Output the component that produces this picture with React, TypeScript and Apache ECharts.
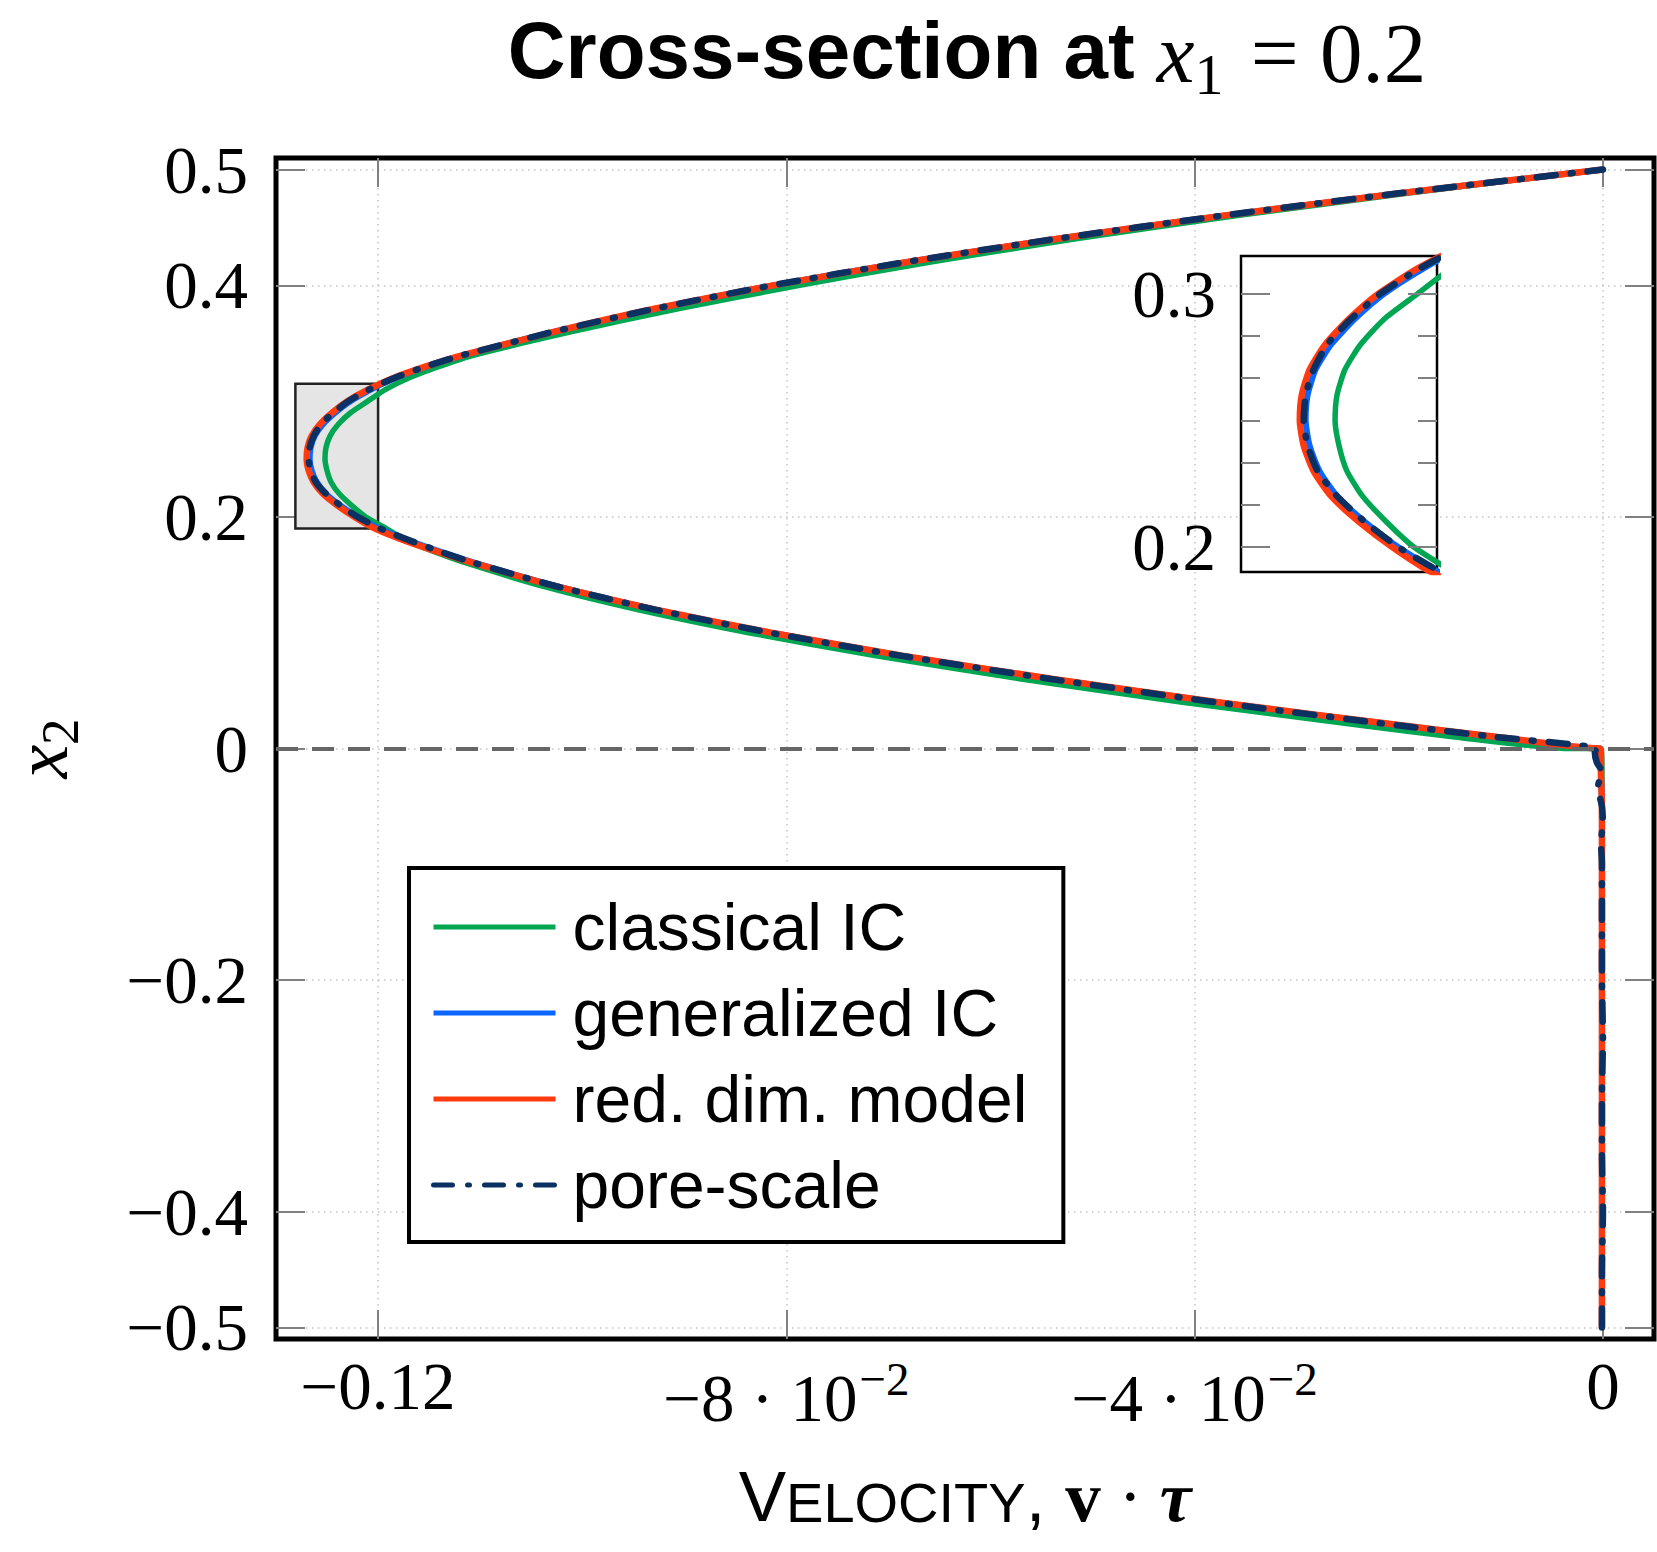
import React, { useEffect, useRef } from 'react';
import * as echarts from 'echarts';

// ---------- data ----------
const seriesNames = ['classical IC', 'generalized IC', 'red. dim. model', 'pore-scale'];
const seriesColors = ['#00A651', '#0A66FF', '#FF3A0F', '#0B3163'];
const seriesWidths = [5.5, 6, 6.5, 6.5];

// free-flow region heights x2 (0 .. 0.5)
const freeHeights = [0, 0.01, 0.02, 0.04, 0.06, 0.08, 0.10, 0.12, 0.14, 0.16, 0.17, 0.18, 0.19, 0.20, 0.21, 0.22, 0.23, 0.24, 0.25, 0.26, 0.27, 0.28, 0.29, 0.30, 0.31, 0.32, 0.33, 0.34, 0.36, 0.38, 0.40, 0.42, 0.44, 0.46, 0.48, 0.50];

const classicalFree = [-0.0035, -0.0145, -0.0238, -0.0412, -0.0570, -0.0712, -0.0837, -0.0946, -0.1038, -0.1113, -0.1145, -0.1173, -0.1192, -0.1212, -0.1226, -0.1238, -0.1246, -0.1250, -0.1252, -0.1251, -0.1247, -0.1239, -0.1227, -0.1210, -0.1193, -0.1170, -0.1140, -0.1105, -0.1010, -0.0905, -0.0787, -0.0660, -0.0518, -0.0360, -0.0188, 0];
const generalizedFree = [-0.0005, -0.0104, -0.0199, -0.0378, -0.0540, -0.0686, -0.0815, -0.0928, -0.1024, -0.1104, -0.1139, -0.1171, -0.1199, -0.1220, -0.1237, -0.1251, -0.1260, -0.1265, -0.1267, -0.1266, -0.1262, -0.1254, -0.1242, -0.1227, -0.1207, -0.1183, -0.1152, -0.1115, -0.1027, -0.0927, -0.0813, -0.0683, -0.0536, -0.0374, -0.0195, 0];
const reducedFree = [-0.0003, -0.0103, -0.0198, -0.0377, -0.0539, -0.0685, -0.0815, -0.0928, -0.1025, -0.1106, -0.1142, -0.1175, -0.1203, -0.1223, -0.1240, -0.1254, -0.1263, -0.1268, -0.1270, -0.1269, -0.1265, -0.1257, -0.1245, -0.1230, -0.1210, -0.1185, -0.1153, -0.1116, -0.1027, -0.0928, -0.0813, -0.0683, -0.0536, -0.0374, -0.0195, 0];
const poreScaleFree = [-0.0006, -0.0106, -0.0201, -0.0380, -0.0541, -0.0687, -0.0816, -0.0929, -0.1025, -0.1105, -0.1139, -0.1170, -0.1198, -0.1220, -0.1237, -0.1251, -0.1261, -0.1266, -0.1268, -0.1267, -0.1263, -0.1256, -0.1244, -0.1229, -0.1209, -0.1184, -0.1153, -0.1116, -0.1028, -0.0928, -0.0814, -0.0684, -0.0537, -0.0375, -0.0196, 0];

// porous region heights x2 (0 .. -0.5)
const porousHeights = [0, -0.02, -0.05, -0.1, -0.2, -0.3, -0.4, -0.5];
const classicalPorous = [-0.0002, -0.0001, -0.0001, -0.0001, -0.0001, -0.0001, -0.0001, -0.0001];
const generalizedPorous = [-0.0003, -0.0002, -0.0001, -0.0001, -0.0001, -0.0001, -0.0001, -0.0001];
const reducedPorous = [-0.0002, -0.0002, -0.0001, -0.0001, -0.0001, -0.0001, -0.0001, -0.0001];
const poreScaleHeights = [-0.003, -0.012, -0.02, -0.033, -0.05, -0.065, -0.08, -0.1, -0.15, -0.2, -0.25, -0.3, -0.35, -0.4, -0.45, -0.5];
const poreScalePorous = [-0.0008, -0.0006, -0.0001, -0.0005, -0.0001, 0, -0.0002, -0.0001, -0.0001, -0.0001, 0, -0.0001, -0.0001, 0, -0.0001, -0.0001];

// axes
const xTicks = [-0.12, -0.08, -0.04, 0];
const xTickMantissa = ['−0.12', '−8 · 10', '−4 · 10', '0'];
const xTickExponent = ['', '−2', '−2', ''];
const yTicks = [0.5, 0.4, 0.2, 0, -0.2, -0.4, -0.5];
const yTickLabels = ['0.5', '0.4', '0.2', '0', '−0.2', '−0.4', '−0.5'];
const insetMajorTicks = [0.2, 0.3];
const insetMajorLabels = ['0.2', '0.3'];
const insetMinorTicks = [0.21667, 0.23333, 0.25, 0.26667, 0.28333];
const interfaceHeight = 0;
const zoomBoxX = [-0.1281, -0.12];
const zoomBoxY = [0.19, 0.315];

// ---------- helpers ----------
function buildProfile(pH: number[], pV: number[], fH: number[], fV: number[]) {
  const pts: number[][] = [];
  for (let i = pH.length - 1; i >= 0; i--) pts.push([pV[i], pH[i]]);
  for (let i = 0; i < fH.length; i++) pts.push([fV[i], fH[i]]);
  return pts;
}

const profiles = [
  buildProfile(porousHeights, classicalPorous, freeHeights, classicalFree),
  buildProfile(porousHeights, generalizedPorous, freeHeights, generalizedFree),
  buildProfile(porousHeights, reducedPorous, freeHeights, reducedFree),
  buildProfile(poreScaleHeights, poreScalePorous, freeHeights, poreScaleFree),
];

const SERIF = 'Liberation Serif';
const SANS = 'Liberation Sans';
const TICK_GRAY = '#808080';

function findIdx(arr: number[], v: number) {
  return arr.findIndex((t) => Math.abs(t - v) < 1e-7);
}

function lineStyleFor(i: number) {
  if (i === 3) {
    return { color: seriesColors[i], width: seriesWidths[i], type: [19, 15, 2, 15], cap: 'round' };
  }
  return { color: seriesColors[i], width: seriesWidths[i], type: 'solid' };
}

export default function App() {
  const ref = useRef<HTMLDivElement>(null);

  useEffect(() => {
    if (!ref.current) return;
    const chart = echarts.init(ref.current, null, { renderer: 'svg' });

    const mainTick = (vals: number[]) => ({
      show: true,
      inside: true,
      length: 29,
      customValues: vals,
      lineStyle: { color: TICK_GRAY, width: 2 },
    });
    const noLine = { show: false, onZero: false };
    const gridLine = { show: true, lineStyle: { color: '#c4c4c4', width: 1.5, type: [1.5, 4.5] } };

    const makeSeries = (xi: number, yi: number, z: number) =>
      seriesNames.map((name, i) => ({
        type: 'line',
        name,
        xAxisIndex: xi,
        yAxisIndex: yi,
        data: profiles[i],
        showSymbol: false,
        symbol: 'none',
        smooth: 0.2,
        lineStyle: lineStyleFor(i),
        itemStyle: { color: seriesColors[i] },
        z,
        silent: true,
      }));

    const insetY = (position: string, vals: number[], len: number, labels: boolean) => ({
      gridIndex: 1,
      type: 'value',
      position,
      min: zoomBoxY[0],
      max: zoomBoxY[1],
      z: 12,
      axisLine: noLine,
      axisTick: { show: true, inside: true, length: len, customValues: vals, lineStyle: { color: TICK_GRAY, width: 2 } },
      axisLabel: labels
        ? {
            show: true,
            customValues: vals,
            margin: 25,
            color: '#000',
            fontFamily: SERIF,
            fontSize: 67,
            formatter: (v: number) => {
              const k = findIdx(insetMajorTicks, v);
              return k < 0 ? '' : insetMajorLabels[k];
            },
          }
        : { show: false, customValues: vals },
      splitLine: { show: false },
    });

    const option: any = {
      animation: false,
      backgroundColor: '#ffffff',
      title: {
        text: '{b|Cross-section at }{i|x}{s|1}{r| = 0.2}',
        left: 967,
        top: 10,
        textAlign: 'center',
        padding: 0,
        textStyle: {
          color: '#000',
          rich: {
            b: { fontFamily: SANS, fontWeight: 'bold', fontSize: 80, verticalAlign: 'top', color: '#000' },
            i: { fontFamily: SERIF, fontWeight: 'normal', fontStyle: 'italic', fontSize: 85, verticalAlign: 'top', color: '#000' },
            s: { fontFamily: SERIF, fontWeight: 'normal', fontSize: 58, verticalAlign: 'top', padding: [35, 6, 0, 0], color: '#000' },
            r: { fontFamily: SERIF, fontWeight: 'normal', fontSize: 85, verticalAlign: 'top', color: '#000' },
          },
        },
      },
      legend: {
        data: seriesNames,
        orient: 'vertical',
        left: 409,
        top: 868,
        backgroundColor: '#ffffff',
        borderColor: '#000',
        borderWidth: 4,
        borderRadius: 0,
        padding: [26, 36, 24, 22],
        itemWidth: 122,
        itemHeight: 2,
        itemGap: 20,
        z: 20,
        selectedMode: false,
        lineStyle: { width: 5 },
        itemStyle: { opacity: 0 },
        textStyle: { fontFamily: SANS, fontSize: 66, lineHeight: 65, color: '#000', padding: [0, 0, 0, 12] },
      },
      grid: [
        { left: 276, top: 158, right: 3, bottom: 213, show: true, borderColor: '#000', borderWidth: 5, backgroundColor: 'transparent', z: 0, outerBoundsMode: 'none' },
        { left: 1241, top: 256, width: 196, height: 316, show: true, borderColor: '#000', borderWidth: 2.5, backgroundColor: '#ffffff', z: 10, outerBoundsMode: 'none' },
      ],
      xAxis: [
        {
          gridIndex: 0,
          type: 'value',
          position: 'bottom',
          min: -0.13,
          max: 0.005,
          axisLine: noLine,
          axisTick: mainTick(xTicks),
          axisLabel: {
            show: true,
            customValues: xTicks,
            margin: 13,
            color: '#000',
            formatter: (v: number) => {
              const k = findIdx(xTicks, v);
              if (k < 0) return '';
              if (xTickExponent[k]) return `{m|${xTickMantissa[k]}}{s|${xTickExponent[k]}}`;
              return `{n|${xTickMantissa[k]}}`;
            },
            rich: {
              n: { fontFamily: SERIF, fontSize: 67, verticalAlign: 'top', color: '#000' },
              m: { fontFamily: SERIF, fontSize: 67, verticalAlign: 'top', padding: [12, 0, 0, 0], color: '#000' },
              s: { fontFamily: SERIF, fontSize: 47, verticalAlign: 'top', padding: [3, 0, 0, 2], color: '#000' },
            },
          },
          splitLine: gridLine,
          name: '{a|V}{b|ELOCITY}{c|, }{v|v}{d| · }{t|τ}',
          nameLocation: 'middle',
          nameGap: 122,
          nameTextStyle: {
            color: '#000',
            rich: {
              a: { fontFamily: SANS, fontSize: 71, verticalAlign: 'bottom', color: '#000' },
              b: { fontFamily: SANS, fontSize: 56, verticalAlign: 'bottom', padding: [0, 0, 2, 0], color: '#000' },
              c: { fontFamily: SANS, fontSize: 71, verticalAlign: 'bottom', color: '#000' },
              v: { fontFamily: SERIF, fontWeight: 'bold', fontSize: 71, verticalAlign: 'bottom', color: '#000' },
              d: { fontFamily: SERIF, fontSize: 71, verticalAlign: 'bottom', color: '#000' },
              t: { fontFamily: SERIF, fontWeight: 'bold', fontStyle: 'italic', fontSize: 71, verticalAlign: 'bottom', color: '#000' },
            },
          },
        },
        {
          gridIndex: 0,
          type: 'value',
          position: 'top',
          min: -0.13,
          max: 0.005,
          axisLine: noLine,
          axisTick: mainTick(xTicks),
          axisLabel: { show: false, customValues: xTicks },
          splitLine: { show: false },
        },
        {
          gridIndex: 1,
          type: 'value',
          min: -0.13,
          max: -0.12,
          show: false,
          axisLine: noLine,
          splitLine: { show: false },
        },
      ],
      yAxis: [
        {
          gridIndex: 0,
          type: 'value',
          position: 'left',
          min: -0.51,
          max: 0.51,
          axisLine: noLine,
          axisTick: mainTick(yTicks),
          axisLabel: {
            show: true,
            customValues: yTicks,
            margin: 28,
            color: '#000',
            fontFamily: SERIF,
            fontSize: 67,
            formatter: (v: number) => {
              const k = findIdx(yTicks, v);
              return k < 0 ? '' : yTickLabels[k];
            },
          },
          splitLine: gridLine,
          name: '{i|x}{s|2}',
          nameLocation: 'middle',
          nameRotate: 90,
          nameGap: 190,
          nameTextStyle: {
            color: '#000',
            rich: {
              i: { fontFamily: SERIF, fontStyle: 'italic', fontSize: 76, verticalAlign: 'top', color: '#000' },
              s: { fontFamily: SERIF, fontSize: 53, verticalAlign: 'top', padding: [30, 0, 0, 0], color: '#000' },
            },
          },
        },
        {
          gridIndex: 0,
          type: 'value',
          position: 'right',
          min: -0.51,
          max: 0.51,
          axisLine: noLine,
          axisTick: mainTick(yTicks),
          axisLabel: { show: false, customValues: yTicks },
          splitLine: { show: false },
        },
        insetY('left', insetMajorTicks, 29, true),
        insetY('right', insetMajorTicks, 29, false),
        insetY('left', insetMinorTicks, 19, false),
        insetY('right', insetMinorTicks, 19, false),
      ],
      series: [
        {
          type: 'line',
          name: 'markers',
          xAxisIndex: 0,
          yAxisIndex: 0,
          data: [[zoomBoxX[1], zoomBoxY[0]]],
          symbol: 'none',
          showSymbol: false,
          lineStyle: { opacity: 0 },
          z: 2,
          silent: true,
          markLine: {
            silent: true,
            symbol: ['none', 'none'],
            label: { show: false },
            lineStyle: { color: '#666666', width: 4, type: [22, 14] },
            data: [{ yAxis: interfaceHeight }],
          },
          markArea: {
            silent: true,
            label: { show: false },
            itemStyle: { color: '#e5e5e5', borderColor: '#222', borderWidth: 2.5 },
            data: [[{ coord: [zoomBoxX[0], zoomBoxY[1]] }, { coord: [zoomBoxX[1], zoomBoxY[0]] }]],
          },
        },
        ...makeSeries(0, 0, 3),
        ...makeSeries(2, 2, 11),
      ],
    };

    chart.setOption(option);
    return () => chart.dispose();
  }, []);

  return (
    <div
      ref={ref}
      style={{ position: 'absolute', left: 0, top: 0, width: 1657, height: 1552, background: '#fff' }}
    />
  );
}
